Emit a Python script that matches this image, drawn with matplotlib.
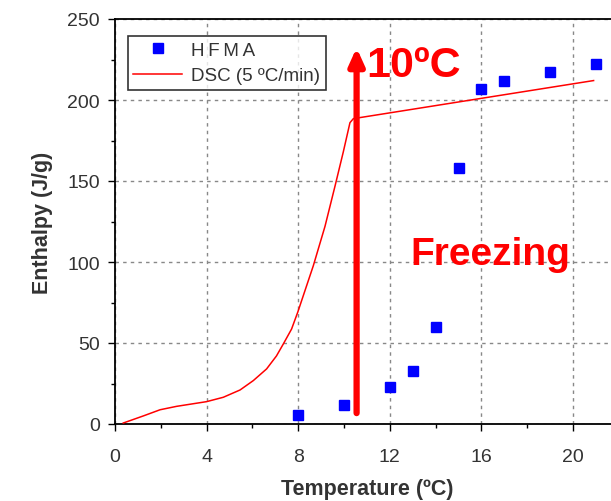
import matplotlib
matplotlib.use("Agg")
import matplotlib.pyplot as plt

plt.rcParams["font.family"] = ["Liberation Sans", "DejaVu Sans"]

# HFMA measurements
hfma_t = [8, 10, 12, 13, 14, 15, 16, 17, 19, 21]
hfma_h = [5.5, 12, 23, 33, 60, 158, 207, 212, 217, 222]

# DSC (5 ºC/min) curve
dsc_t = [0.36, 1.24, 1.97, 2.69, 4.0, 4.73, 5.46, 6.04, 6.62, 7.05, 7.35, 7.71, 7.98,
         8.66, 9.17, 9.61, 9.97, 10.26, 10.41, 20.9]
dsc_h = [0.6, 5, 8.8, 10.9, 13.8, 16.5, 21, 26.8, 34, 42, 49.4, 58.6, 69,
         97.7, 122, 147, 168, 186, 188.5, 212]

RED, BLUE, TXT = "#ff0000", "#0000ff", "#333333"

fig = plt.figure(figsize=(6.11, 5.02), dpi=100)
ax = fig.add_axes([115 / 611, 77 / 502, 22 * 22.9 / 611, 405 / 502])

ax.plot(dsc_t, dsc_h, color=RED, lw=1.1, label="DSC (5 ºC/min)", zorder=3)
ax.plot(hfma_t, hfma_h, ls="none", marker="s", ms=7, color=BLUE,
        label="H\u2009F\u2009M\u2009A", zorder=4)

# freezing arrow
ax.annotate("", xy=(10.55, 234), xytext=(10.55, 5),
            arrowprops=dict(arrowstyle="-|>,head_length=1.0,head_width=0.45", color=RED, lw=4.5),
            zorder=5)
ax.text(10.95, 215, "10ºC", color=RED, fontsize=31, fontweight="bold",
        ha="left", va="baseline")
ax.text(16.4, 105, "Freezing", color=RED, fontsize=28, fontweight="bold",
        ha="center", va="center")

ax.set_xlim(0, 22)
ax.set_ylim(0, 250)
ax.set_xticks([0, 4, 8, 12, 16, 20])
ax.set_xticks([2, 6, 10, 14, 18, 22], minor=True)
ax.set_yticks([0, 50, 100, 150, 200, 250])
ax.set_yticks([25, 75, 125, 175, 225], minor=True)
ax.tick_params(which="both", direction="out", colors="black", labelcolor=TXT, labelsize=14)
ax.tick_params(which="major", length=5, width=1, pad=6)
ax.tick_params(axis="x", which="major", pad=12)
ax.tick_params(which="minor", length=3, width=1)
ax.grid(True, which="major", ls=(0, (2.5, 3)), color="#888888", lw=1)
ax.set_axisbelow(True)
for s in ax.spines.values():
    s.set_linewidth(1.3)

ax.set_xlabel("Temperature (ºC)", fontsize=15.5, fontweight="bold", color=TXT, labelpad=10)
ax.set_ylabel("Enthalpy (J/g)", fontsize=15.5, fontweight="bold", color=TXT, labelpad=10)

handles, labels = ax.get_legend_handles_labels()
leg = ax.legend(handles[::-1], labels[::-1], loc="upper left", bbox_to_anchor=(0.025, 0.958),
                fontsize=13.5, frameon=True, fancybox=False, edgecolor="black",
                borderpad=0.3, handlelength=2.6, handletextpad=0.5, labelspacing=0.45,
                borderaxespad=0)
leg.get_frame().set_linewidth(1.2)
for t in leg.get_texts():
    t.set_color(TXT)

fig.savefig("out.png", dpi=100)
